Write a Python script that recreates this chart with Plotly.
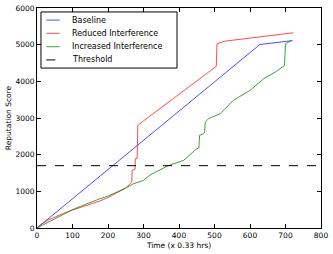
import plotly.graph_objects as go

# Baseline
base_x = [0, 628, 720]
base_y = [0, 5005, 5110]

# Reduced interference
red_x = [0, 10, 30, 50, 75, 100, 125, 150, 175, 200, 225, 250, 267, 268, 276, 277, 282, 284, 300, 350, 384, 450, 505, 507, 530, 600, 680, 722]
red_y = [0, 90, 210, 300, 400, 490, 570, 640, 730, 830, 950, 1090, 1253, 1572, 1600, 1890, 1900, 2800, 2920, 3290, 3530, 4010, 4410, 5024, 5096, 5180, 5270, 5324]

# Increased interference
grn_x = [0, 10, 30, 50, 75, 100, 125, 150, 175, 200, 225, 250, 270, 300, 319, 340, 370, 413, 450, 456, 458, 469, 472, 474, 483, 516, 553, 600, 638, 671, 697, 700, 717]
grn_y = [0, 50, 150, 260, 390, 500, 600, 700, 790, 870, 970, 1090, 1200, 1300, 1450, 1560, 1700, 1845, 2163, 2180, 2526, 2572, 2600, 2888, 2981, 3117, 3480, 3752, 4070, 4251, 4433, 5024, 5114]

threshold = 1700
x_ticks = [0, 100, 200, 300, 400, 500, 600, 700, 800]
y_ticks = [0, 1000, 2000, 3000, 4000, 5000, 6000]

series_names = ["Baseline", "Reduced Interference", "Increased Interference", "Threshold"]
series_colors = ["rgba(0,0,255,0.7)", "rgba(255,0,0,0.7)", "rgba(0,128,0,0.75)", "black"]
series_dash = ["solid", "solid", "solid", "dash"]

fig = go.Figure()
for xs, ys, nm, col, ds in [
    (base_x, base_y, series_names[0], series_colors[0], series_dash[0]),
    (red_x, red_y, series_names[1], series_colors[1], series_dash[1]),
    (grn_x, grn_y, series_names[2], series_colors[2], series_dash[2]),
    ([0, 800], [threshold, threshold], series_names[3], series_colors[3], series_dash[3]),
]:
    fig.add_trace(go.Scatter(x=xs, y=ys, mode="lines", name=nm,
                             line=dict(color=col, width=1, dash=ds), showlegend=False))

# Manual legend box (matplotlib-style, compact)
lx0, lx1, ly_top, ly_bot = 0.014, 0.493, 0.982, 0.727
fig.add_shape(type="rect", xref="paper", yref="paper", x0=lx0, x1=lx1, y0=ly_bot, y1=ly_top,
              line=dict(color="black", width=1), fillcolor="white", layer="above")
row_ys = [0.945, 0.885, 0.824, 0.764]
for nm, col, ds, ry in zip(series_names, series_colors, series_dash, row_ys):
    fig.add_shape(type="line", xref="paper", yref="paper", x0=0.033, x1=0.08, y0=ry, y1=ry,
                  line=dict(color=col, width=1, dash=ds), layer="above")
    fig.add_annotation(x=0.117, y=ry, xref="paper", yref="paper", text=nm, showarrow=False,
                       xanchor="left", yanchor="middle", font=dict(size=8, color="black"))

axis_common = dict(showgrid=False, zeroline=False, showline=True, linecolor="black",
                   linewidth=1, mirror="allticks", ticks="inside", ticklen=4,
                   tickcolor="black", tickfont=dict(size=7.5, color="black"), automargin=False)
fig.update_layout(
    width=333, height=254,
    margin=dict(l=37, r=12, t=8, b=26),
    paper_bgcolor="white", plot_bgcolor="white",
    font=dict(family="DejaVu Sans", size=7.5, color="black"),
    xaxis=dict(range=[0, 800], tickvals=x_ticks,
               title=dict(text="Time (x 0.33 hrs)", font=dict(size=7.5), standoff=3),
               **axis_common),
    yaxis=dict(range=[0, 6000], tickvals=y_ticks,
               title=dict(text="Reputation Score", font=dict(size=7.5), standoff=2),
               **axis_common),
    showlegend=False,
)
fig.write_html("out.html", config={"displayModeBar": False},
               post_script="document.body.style.margin='0';document.body.style.overflow='hidden';")
